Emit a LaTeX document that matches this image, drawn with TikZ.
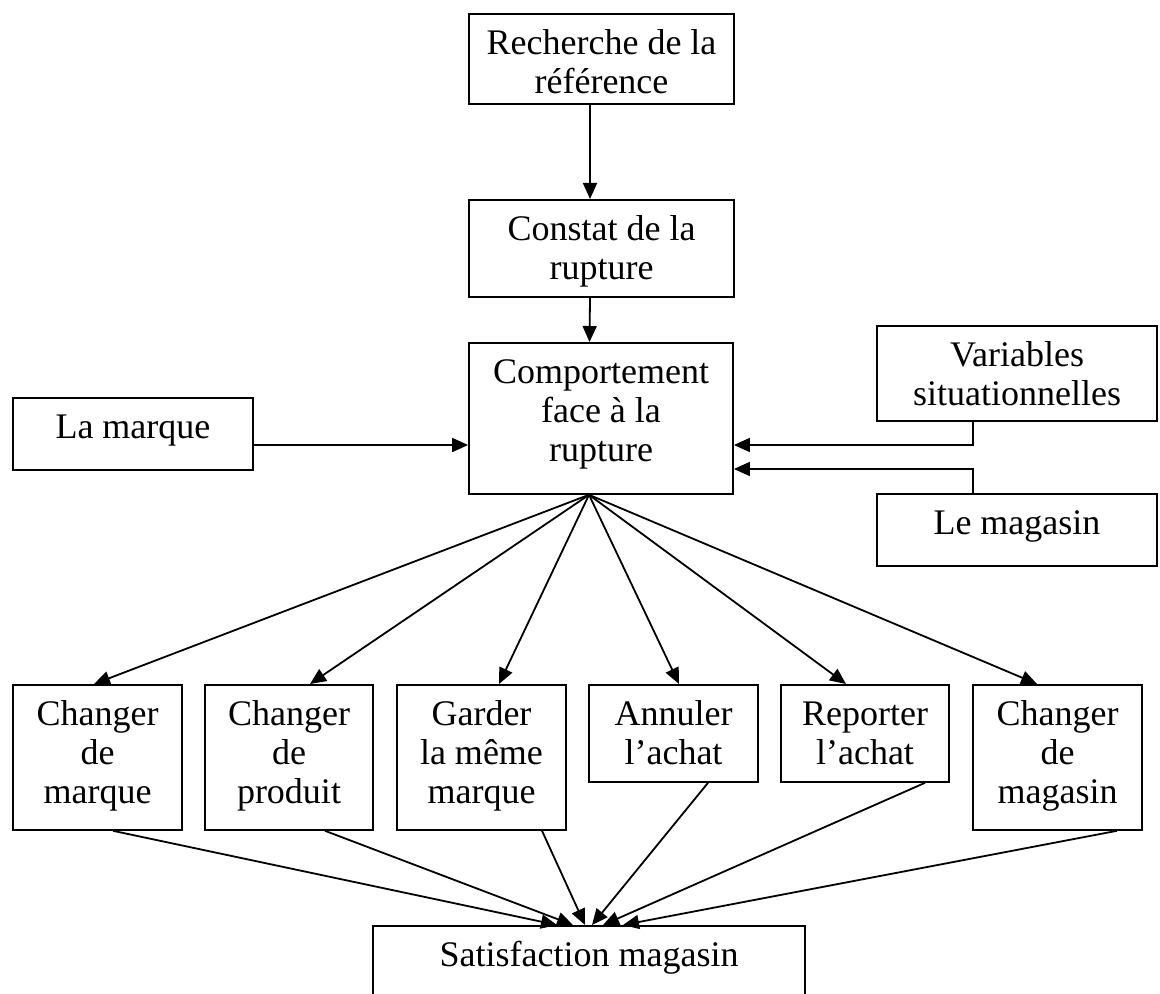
\documentclass[tikz,border=0pt]{standalone}
\usepackage{fontspec}
\setmainfont{Liberation Serif}
\usetikzlibrary{arrows.meta}
\newcommand\fsz{\fontsize{18}{19.5}\selectfont}
\newcommand\bt[3]{\begin{minipage}[t][#2][t]{#1}\centering\rule{0pt}{20.5pt}#3\end{minipage}}
\tikzset{
  box/.style={draw, line width=0.9pt, inner sep=0pt, anchor=north, font=\fsz},
  arr/.style={-{Triangle[length=8pt,width=7pt]}, line width=0.9pt}
}
\begin{document}
\begin{tikzpicture}[x=0.5pt,y=-0.5pt]
\clip (0,0) rectangle (1160,994);
\useasboundingbox (0,0) rectangle (1160,994);
% nodes
\node[box] (rech) at (601.5,13) {\bt{132.5pt}{45pt}{Recherche de la\\référence}};
\node[box] (const) at (601.5,199) {\bt{132.5pt}{48.5pt}{Constat de la\\rupture}};
\node[box] (comp) at (601,342) {\bt{132pt}{75.5pt}{Comportement\\face à la\\rupture}};
\node[box] (marque) at (133,397) {\bt{120pt}{36pt}{La marque}};
\node[box] (var) at (1017,325) {\bt{140pt}{47.5pt}{Variables\\situationnelles}};
\node[box] (mag) at (1017,493) {\bt{140pt}{36pt}{Le magasin}};
\node[box] (b1) at (97.5,684) {\bt{84.5pt}{72.5pt}{Changer\\de\\marque}};
\node[box] (b2) at (289,684) {\bt{84pt}{72.5pt}{Changer\\de\\produit}};
\node[box] (b3) at (481.5,684) {\bt{84.5pt}{72.5pt}{Garder\\la même\\marque}};
\node[box] (b4) at (673.5,684) {\bt{84.5pt}{48.5pt}{Annuler\\l’achat}};
\node[box] (b5) at (865,684) {\bt{84pt}{48.5pt}{Reporter\\l’achat}};
\node[box] (b6) at (1057.5,684) {\bt{84.5pt}{72.5pt}{Changer\\de\\magasin}};
\node[box] (sat) at (589,925) {\bt{216pt}{60pt}{Satisfaction magasin}};
% helper coordinates
\coordinate (ym) at (0,445);
\coordinate (vx) at (973,445);
\coordinate (mx) at (973,469);
\coordinate (apex) at ([xshift=-6pt]comp.south);
% connectors
\draw[arr] ([xshift=-5.75pt]rech.south) -- ([xshift=-5.75pt]const.north);
\draw[arr] ([xshift=-5.75pt]const.south) -- ([xshift=-5.75pt]comp.north);
\draw[arr] (marque.east |- ym) -- (comp.west |- ym);
\draw[arr] (var.south -| vx) |- (comp.east |- vx);
\draw[arr] (mag.north -| mx) |- (comp.east |- mx);
\draw[arr] (apex) -- ([xshift=-1.75pt]b1.north);
\draw[arr] (apex) -- ([xshift=10.5pt]b2.north);
\draw[arr] (apex) -- ([xshift=8.75pt]b3.north);
\draw[arr] (apex) -- ([xshift=2.75pt]b4.north);
\draw[arr] (apex) -- ([xshift=-9.5pt]b5.north);
\draw[arr] (apex) -- ([xshift=-10.25pt]b6.north);
\draw[arr] ([xshift=7.75pt]b1.south) -- ([xshift=-16pt]sat.north);
\draw[arr] ([xshift=18pt]b2.south) -- ([xshift=-8pt]sat.north);
\draw[arr] ([xshift=30.25pt]b3.south) -- ([xshift=-2pt]sat.north);
\draw[arr] ([xshift=17.25pt]b4.south) -- ([xshift=1.5pt]sat.north);
\draw[arr] ([xshift=30pt]b5.south) -- ([xshift=7pt]sat.north);
\draw[arr] ([xshift=29.75pt]b6.south) -- ([xshift=17pt]sat.north);
\end{tikzpicture}
\end{document}
